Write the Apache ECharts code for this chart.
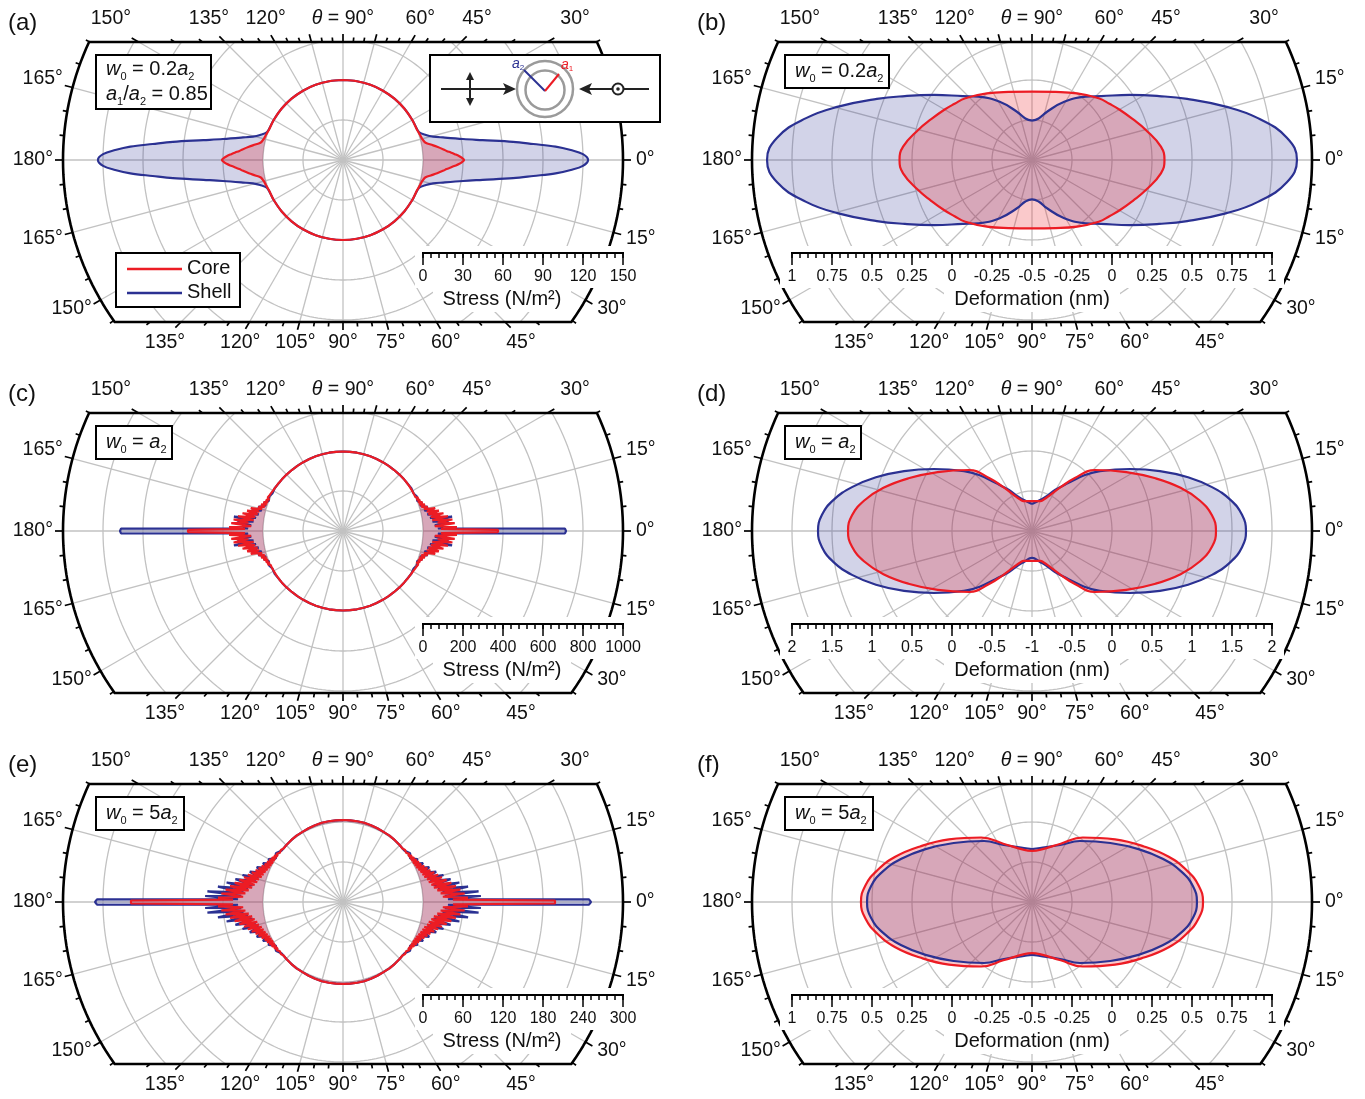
<!DOCTYPE html>
<html>
<head>
<meta charset="utf-8">
<title>Core-shell stress and deformation</title>
<script src="https://cdn.jsdelivr.net/npm/echarts@6.0.0/dist/echarts.min.js"></script>
<style>
  html, body { margin: 0; padding: 0; background: #fff; }
  #chart { width: 1365px; height: 1099px; }
</style>
</head>
<body>
<div id="chart"></div>
<script>
// first-quadrant readings: angle from the 0 deg axis, radial value (mirrored to the other quadrants)
// (a) stress, w0 = 0.2 a2
const angShellA = [0, 1.4, 2.5, 3.6, 4.8, 6.1, 8.1, 9.9, 12.7, 14.6, 16.8, 20, 25, 30, 40, 50, 60, 70, 80, 90];
const shellA    = [123.8, 120, 111, 99.8, 83.3, 68.3, 45.8, 31.5, 16.9, 9.8, 5, 0.8, 0, 0, 0, 0, 0, 0, 0, 0];
const angCoreA  = [0, 1, 2, 3, 4, 5, 6, 8, 10, 12, 15, 18, 22, 30, 40, 50, 60, 70, 80, 90];
const coreA     = [30.8, 29.3, 27, 24, 21, 18, 15.8, 11.3, 6.8, 3, 1.5, 0.8, 0, 0, 0, 0, 0, 0, 0, 0];

// (b) deformation, w0 = 0.2 a2
const angShellB = [0, 5, 10.5, 15.4, 21.5, 26.7, 33.6, 42.8, 49.7, 61, 72.7, 81, 90];
const shellB    = [1.156, 1.099, 0.936, 0.756, 0.542, 0.389, 0.235, 0.088, 0.019, -0.084, -0.184, -0.237, -0.254];
const angCoreB  = [0, 5.9, 14.8, 22, 29.6, 36, 42.8, 55.9, 70.9, 90];
const coreB     = [0.328, 0.31, 0.236, 0.18, 0.133, 0.098, 0.068, 0.003, -0.05, -0.073];

// (c) stress, w0 = a2
const angShellC = [0, 0.6, 1.5, 2.5, 3.5, 5, 6, 7.5, 8.5, 10, 11, 12.5, 14, 16, 18, 20, 22, 25, 28, 32, 40,
                   45, 50, 55, 60, 65, 70, 75, 80, 85, 90];
const shellC    = [715, 710, 75, 100, 60, 130, 50, 150, 40, 90, 30, 70, 20, 40, 8, 20, 0, 8, 0, 3, 0,
                   -1, -2, -2.5, -2.5, -2.5, -2.5, -2.5, -2.5, -2.5, -2.5];
const angCoreC  = [0, 0.4, 1.2, 2, 3, 4, 5, 6, 7, 8, 9, 10, 11, 12, 13, 14, 15, 16, 17, 18, 19, 20, 21, 22, 23, 24,
                   25, 26, 27, 28, 29, 30, 31, 32, 33, 34, 35, 36, 38, 40, 45, 50, 55, 60, 65, 70, 75, 80, 85, 90];
const coreC     = [380, 375, 90, 170, 60, 160, 75, 150, 50, 130, 45, 110, 35, 90, 30, 75, 20, 40, 10, 30, 5, 22, 3, 15, 0, 12,
                   0, 8, 0, 6, 0, 4, 0, 3, 0, 2, 0, 1.5, 0, 0, -1, -2, -2.5, -2.5, -2.5, -2.5, -2.5, -2.5, -2.5, -2.5];

// (d) deformation, w0 = a2
const angShellD = [0, 4.4, 8.9, 13.7, 19, 25.1, 32.3, 41.4, 46.6, 53, 60.7, 68, 75.5, 90];
const shellD    = [1.675, 1.633, 1.511, 1.316, 1.063, 0.766, 0.45, 0.133, -0.038, -0.25, -0.413, -0.538, -0.6, -0.663];
const angCoreD  = [0, 5, 10.3, 16.2, 23.1, 32, 44.1, 51, 57, 63.4, 69, 75, 90];
const coreD     = [1.3, 1.258, 1.131, 0.934, 0.679, 0.39, 0.096, -0.148, -0.35, -0.498, -0.575, -0.613, -0.625];

// (e) stress, w0 = 5 a2
const angShellE = [0, 0.6, 1.5, 2.5, 3.5, 4.5, 5.5, 7, 8, 9.5, 10.5, 12, 13.5, 15, 16.5, 18, 20, 22, 24, 26, 28, 30, 33, 36, 40,
                   45, 50, 55, 60, 65, 70, 75, 80, 85, 90];
const shellE    = [252, 249, 37.5, 87, 33, 84, 30, 69, 24, 57, 18, 45, 15, 36, 12, 27, 9, 19.5, 6, 13.5, 3, 9, 0, 4.5, 0,
                   0.5, 1, 1.5, 1.5, 2, 2.5, 3, 3, 3, 3];
const angCoreE  = [0, 0.4, 1.2, 2, 3, 4, 5, 6, 7, 8, 9, 10, 11, 12, 13, 14, 15, 16, 17, 18, 19, 20, 21, 22, 23, 24,
                   25, 26, 27, 28, 29, 30, 31, 32, 33, 34, 35, 36, 38, 40, 42, 45, 50, 55, 60, 65, 70, 75, 80, 85, 90];
const coreE     = [199.5, 198, 45, 67.5, 30, 63, 27, 57, 22.5, 51, 18, 45, 15, 39, 12, 33, 10.5, 28.5, 7.5, 24, 6, 19.5, 4.5, 16.5, 3, 13.5,
                   1.5, 10.5, 0.75, 9, 0, 7.5, 0, 6, 0, 4.5, 0, 3, 0, 1.5, 0, 0.5, 1, 1.5, 1.5, 2, 2.5, 3, 3, 3, 3];

// (f) deformation, w0 = 5 a2
const angShellF = [0, 5.6, 11.5, 18.3, 26.4, 37, 51.8, 63.8, 81.6, 90];
const shellF    = [0.531, 0.511, 0.453, 0.36, 0.243, 0.113, -0.015, -0.103, -0.159, -0.169];
const angCoreF  = [0, 5.6, 11.5, 18.3, 26.4, 37, 51.8, 63.8, 81.6, 90];
const coreF     = [0.569, 0.547, 0.488, 0.4, 0.281, 0.15, 0.013, -0.094, -0.171, -0.181];

// scale bar values
const rulerA = [0, 30, 60, 90, 120, 150];
const rulerC = [0, 200, 400, 600, 800, 1000];
const rulerE = [0, 60, 120, 180, 240, 300];
const rulerB = [-0.5, -0.25, 0, 0.25, 0.5, 0.75, 1];
const rulerD = [-1, -0.5, 0, 0.5, 1, 1.5, 2];
const rulerF = [-0.5, -0.25, 0, 0.25, 0.5, 0.75, 1];

// angle labels around the frame
const topLabelAngles = [150, 135, 120, 90, 60, 45, 30];
const bottomLabelAngles = [225, 240, 255, 270, 285, 300, 315];
const sideLabelAngles = [165, 180, 195, 210, 15, 0, 345, 330];

const FONT = "'Liberation Sans', Arial, Helvetica, sans-serif";
const LBL = 19.5;
const BLUE = '#2b3192', RED = '#ec1c24';
const BLUE_FILL = 'rgba(43,49,146,0.3)', RED_FILL = 'rgba(236,28,36,0.34)';
const GRID = '#c2c2c2';
const R_FRAME = 280, W_TOP = 118, W_BOT = 162, STEPS = 7;

const panels = [
  {tag: '(a)', cx: 343,  cy: 160, min: -60,  step: 30,   kind: 'stress', ruler: rulerA, smooth: 0.35,
   curves: [[angShellA, shellA], [angCoreA, coreA]],
   note: {w: 115, h: 54, text: '{i|w}{s|0} = 0.2{i|a}{s|2}\n{i|a}{s|1}/{i|a}{s|2} = 0.85'}},
  {tag: '(b)', cx: 1032, cy: 160, min: -0.5, step: 0.25, kind: 'def', ruler: rulerB, smooth: 0.45,
   curves: [[angShellB, shellB], [angCoreB, coreB]],
   note: {w: 104, h: 33, text: '{i|w}{s|0} = 0.2{i|a}{s|2}'}},
  {tag: '(c)', cx: 343,  cy: 531, min: -400, step: 200,  kind: 'stress', ruler: rulerC, smooth: false,
   curves: [[angShellC, shellC], [angCoreC, coreC]],
   note: {w: 76, h: 33, text: '{i|w}{s|0} = {i|a}{s|2}'}},
  {tag: '(d)', cx: 1032, cy: 531, min: -1,   step: 0.5,  kind: 'def', ruler: rulerD, smooth: 0.45,
   curves: [[angShellD, shellD], [angCoreD, coreD]],
   note: {w: 76, h: 33, text: '{i|w}{s|0} = {i|a}{s|2}'}},
  {tag: '(e)', cx: 343,  cy: 902, min: -120, step: 60,   kind: 'stress', ruler: rulerE, smooth: false,
   curves: [[angShellE, shellE], [angCoreE, coreE]],
   note: {w: 88, h: 33, text: '{i|w}{s|0} = 5{i|a}{s|2}'}},
  {tag: '(f)', cx: 1032, cy: 902, min: -0.5, step: 0.25, kind: 'def', ruler: rulerF, smooth: 0.45,
   curves: [[angShellF, shellF], [angCoreF, coreF]],
   note: {w: 88, h: 33, text: '{i|w}{s|0} = 5{i|a}{s|2}'}}
];
panels.forEach(p => { p.max = p.min + STEPS * p.step; });

// mirror a first-quadrant reading into a closed loop, starting at 90 deg
function loop(ang, val) {
  const n = ang.length, pts = [];
  for (let i = n - 1; i >= 0; i--) pts.push([val[i], 180 - ang[i]]);
  for (let i = 1; i < n; i++) pts.push([val[i], 180 + ang[i]]);
  for (let i = n - 2; i >= 0; i--) pts.push([val[i], 360 - ang[i]]);
  for (let i = 1; i < n; i++) pts.push([val[i], ang[i]]);
  return pts;
}

const rad = d => d * Math.PI / 180;
const asinDeg = v => Math.asin(v) * 180 / Math.PI;
function pt(p, r, deg) {
  return [p.cx + r * Math.cos(rad(deg)), p.cy - r * Math.sin(rad(deg))];
}
function arcPts(p, r, d0, d1) {
  const n = Math.max(2, Math.ceil(Math.abs(d1 - d0) / 1.5));
  const out = [];
  for (let k = 0; k <= n; k++) out.push(pt(p, r, d0 + (d1 - d0) * k / n));
  return out;
}
// distance from the pole to the frame along a ray
function frameR(deg) {
  const s = Math.sin(rad(deg));
  if (s * R_FRAME > W_TOP) return W_TOP / s;
  if (-s * R_FRAME > W_BOT) return W_BOT / -s;
  return R_FRAME;
}

const G = [];
function gLine(a, b, stroke, w, z) {
  G.push({type: 'line', silent: true, z: z, shape: {x1: a[0], y1: a[1], x2: b[0], y2: b[1]},
          style: {stroke: stroke, lineWidth: w}});
}
function gPoly(points, stroke, w, z) {
  G.push({type: 'polyline', silent: true, z: z, shape: {points: points},
          style: {stroke: stroke, lineWidth: w, fill: null, lineJoin: 'round'}});
}
function gRect(x, y, w, h, z, border) {
  G.push({type: 'rect', silent: true, z: z, shape: {x: x, y: y, width: w, height: h},
          style: {fill: '#fff', stroke: border ? '#000' : null, lineWidth: border ? 2 : 0}});
}
function gText(x, y, text, style, z) {
  G.push({type: 'text', silent: true, z: z || 7, x: x, y: y,
          style: Object.assign({text: text, fontFamily: FONT, fontSize: LBL, fill: '#111',
                                align: 'center', verticalAlign: 'middle'}, style || {})});
}
const noteRich = {
  i: {fontStyle: 'italic', fontSize: 20, fontFamily: FONT, lineHeight: 25},
  s: {fontSize: 11, fontFamily: FONT, lineHeight: 14, verticalAlign: 'bottom'}
};

function drawPanel(p) {
  // grid: circles every step, rays every 15 deg, clipped to the frame
  for (let k = 1; k < STEPS; k++) {
    const r = k * R_FRAME / STEPS;
    if (r <= W_TOP) {
      gPoly(arcPts(p, r, 0, 360), GRID, 1.3, 1);
    } else {
      const at = asinDeg(W_TOP / r);
      if (r <= W_BOT) {
        gPoly(arcPts(p, r, 180 - at, 360 + at), GRID, 1.3, 1);
      } else {
        const ab = asinDeg(W_BOT / r);
        gPoly(arcPts(p, r, -ab, at), GRID, 1.3, 1);
        gPoly(arcPts(p, r, 180 - at, 180 + ab), GRID, 1.3, 1);
      }
    }
  }
  for (let d = 0; d < 360; d += 15) gLine([p.cx, p.cy], pt(p, frameR(d), d), GRID, 1.3, 1);

  // frame
  const at = asinDeg(W_TOP / R_FRAME), ab = asinDeg(W_BOT / R_FRAME);
  const frame = [[p.cx, p.cy - W_TOP]]
    .concat(arcPts(p, R_FRAME, at, -ab))
    .concat(arcPts(p, R_FRAME, 180 + ab, 180 - at));
  frame.push([p.cx, p.cy - W_TOP]);
  gPoly(frame, '#000', 2.6, 4);

  // ticks every 5 deg, longer every 15 deg
  for (let d = 0; d < 360; d += 5) {
    const r0 = frameR(d);
    const len = d % 15 === 0 ? 8 : 4.5;
    gLine(pt(p, r0, d), pt(p, r0 + len, d), '#000', 1.7, 4);
  }

  // angle labels
  topLabelAngles.forEach(d => {
    const x = p.cx + 134 / Math.tan(rad(d));
    if (d === 90) gText(x, p.cy - 141, '{i|θ} = 90°', {rich: {i: {fontStyle: 'italic', fontSize: LBL, fontFamily: FONT}}});
    else gText(x, p.cy - 141, d + '°');
  });
  bottomLabelAngles.forEach(d => {
    gText(p.cx - 178 / Math.tan(rad(d)), p.cy + 183, (360 - d) + '°');
  });
  sideLabelAngles.forEach(d => {
    const q = pt(p, R_FRAME + 10, d);
    const s = Math.sin(rad(d));
    const y = q[1] + (s > 0.01 ? -6 : s < -0.01 ? 4 : 0);
    const txt = (d > 180 ? 360 - d : d) + '°';
    if (Math.cos(rad(d)) < 0) gText(q[0], y, txt, {align: 'right'});
    else gText(q[0] + 3, y, txt, {align: 'left'});
  });

  // panel tag
  gText(p.cx - 335, p.cy - 137, p.tag, {fontSize: 24, align: 'left'});

  // scale bar
  const px = v => (v - p.min) / (p.max - p.min) * R_FRAME;
  const yb = p.cy + 93;
  let marks, x0, x1, titleX, title, boxW;
  if (p.kind === 'stress') {
    marks = p.ruler.map(v => [p.cx + px(v), String(v)]);
    x0 = marks[0][0]; x1 = marks[marks.length - 1][0];
    gRect(p.cx + 72, p.cy + 86, 222, 42, 5, false);
    titleX = p.cx + 159; title = 'Stress (N/m²)'; boxW = 138;
  } else {
    const left = p.ruler.slice().reverse().map(v => [p.cx - px(v), String(v)]);
    const right = p.ruler.slice(1).map(v => [p.cx + px(v), String(v)]);
    marks = left.concat(right);
    x0 = marks[0][0]; x1 = marks[marks.length - 1][0];
    gRect(x0 - 12, p.cy + 86, x1 - x0 + 24, 42, 5, false);
    titleX = p.cx; title = 'Deformation (nm)'; boxW = 176;
  }
  gRect(titleX - boxW / 2, p.cy + 127, boxW, 25, 5, false);
  gLine([x0 - 1, yb], [x1 + 1, yb], '#000', 2, 6);
  const minor = R_FRAME / STEPS / 5;
  for (let x = x0; x <= x1 + 0.5; x += minor) gLine([x, yb], [x, yb + 5], '#000', 1.5, 6);
  marks.forEach(m => {
    gLine([m[0], yb], [m[0], yb + 12], '#000', 1.5, 6);
    gText(m[0], p.cy + 117, m[1], {fontSize: 16});
  });
  gText(titleX, p.cy + 139, title, {fontSize: 20});

  // parameter box
  const nx = p.cx - 247, ny = p.cy - 105;
  gRect(nx, ny, p.note.w, p.note.h, 5, true);
  gText(nx + 10, ny + p.note.h / 2, p.note.text,
        {align: 'left', fontSize: 20, lineHeight: 25, rich: noteRich});
}

panels.forEach(drawPanel);

// legend in (a)
gRect(116, 253, 124, 54, 5, true);
gLine([127, 269], [182, 269], RED, 2.5, 6);
gLine([127, 293], [182, 293], BLUE, 2.5, 6);
gText(187, 268, 'Core', {align: 'left', fontSize: 20});
gText(187, 292, 'Shell', {align: 'left', fontSize: 20});

// field / particle sketch in (a), on top of the frame
gRect(430, 55, 230, 67, 8, true);
gLine([441, 89], [507, 89], '#222', 2, 9);
G.push({type: 'polygon', silent: true, z: 9, shape: {points: [[516, 89], [503, 83], [506, 89], [503, 95]]}, style: {fill: '#222'}});
gLine([470, 78], [470, 100], '#222', 2, 9);
G.push({type: 'polygon', silent: true, z: 9, shape: {points: [[470, 72], [466, 80], [474, 80]]}, style: {fill: '#222'}});
G.push({type: 'polygon', silent: true, z: 9, shape: {points: [[470, 106], [466, 98], [474, 98]]}, style: {fill: '#222'}});
G.push({type: 'circle', silent: true, z: 9, shape: {cx: 545, cy: 89, r: 28}, style: {fill: null, stroke: '#9a9a9a', lineWidth: 2.5}});
G.push({type: 'circle', silent: true, z: 9, shape: {cx: 545, cy: 90, r: 19.5}, style: {fill: null, stroke: '#9a9a9a', lineWidth: 2.5}});
gLine([545, 91], [524, 70], BLUE, 2, 10);
gLine([545, 91], [559, 74], RED, 2, 10);
const aRich = {i: {fontStyle: 'italic', fontSize: 14, fontFamily: FONT, lineHeight: 16},
               s: {fontSize: 8, fontFamily: FONT, lineHeight: 9, verticalAlign: 'bottom'}};
gText(518, 64, '{i|a}{s|2}', {fill: BLUE, rich: aRich, fontSize: 14, lineHeight: 16}, 10);
gText(567, 65, '{i|a}{s|1}', {fill: RED, rich: aRich, fontSize: 14, lineHeight: 16}, 10);
gLine([649, 89], [588, 89], '#222', 2, 9);
G.push({type: 'polygon', silent: true, z: 9, shape: {points: [[579, 89], [592, 83], [589, 89], [592, 95]]}, style: {fill: '#222'}});
G.push({type: 'circle', silent: true, z: 10, shape: {cx: 618, cy: 89, r: 5.5}, style: {fill: '#fff', stroke: '#222', lineWidth: 2}});
G.push({type: 'circle', silent: true, z: 10, shape: {cx: 618, cy: 89, r: 1.8}, style: {fill: '#222'}});

// polar systems: one per panel, axes hidden (grid drawn clipped to the frame above)
const series = [];
panels.forEach((p, i) => {
  p.curves.forEach((c, j) => {
    const core = j === 1;
    series.push({
      type: 'line',
      name: core ? 'Core' : 'Shell',
      coordinateSystem: 'polar',
      polarIndex: i,
      data: loop(c[0], c[1]),
      smooth: p.smooth,
      symbol: 'none',
      silent: true,
      lineStyle: {color: core ? RED : BLUE, width: 2.2},
      areaStyle: {color: core ? RED_FILL : BLUE_FILL, origin: p.kind === 'stress' ? 0 : 'start'}
    });
  });
});

const hidden = {axisLine: {show: false}, axisTick: {show: false}, axisLabel: {show: false}, splitLine: {show: false}};
const option = {
  animation: false,
  polar: panels.map(p => ({center: [p.cx, p.cy], radius: R_FRAME})),
  angleAxis: panels.map((p, i) => Object.assign({polarIndex: i, type: 'value', min: 0, max: 360, interval: 15,
                                                 startAngle: 0, clockwise: false}, hidden)),
  radiusAxis: panels.map((p, i) => Object.assign({polarIndex: i, type: 'value', min: p.min, max: p.max,
                                                  interval: p.step}, hidden)),
  graphic: {elements: G},
  series: series
};

const chart = echarts.init(document.getElementById('chart'));
chart.setOption(option);
</script>
</body>
</html>
